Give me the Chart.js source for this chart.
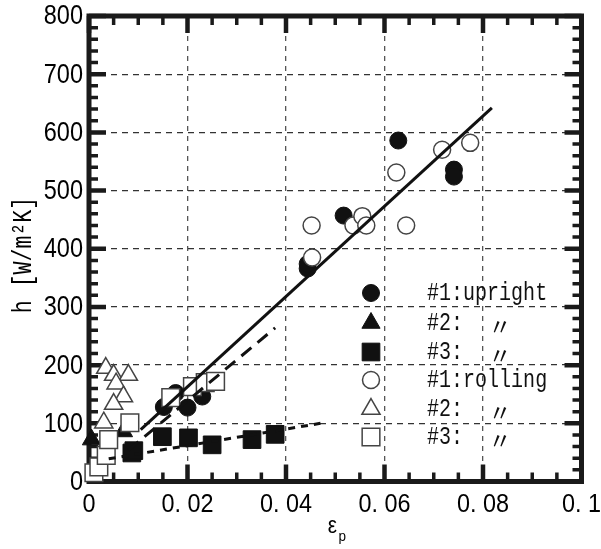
<!DOCTYPE html>
<html>
<head>
<meta charset="utf-8">
<script src="https://cdn.jsdelivr.net/npm/chart.js@4.4.1/dist/chart.umd.min.js"></script>
<style>
  html, body { margin: 0; padding: 0; background: #fff; }
</style>
</head>
<body>
<canvas id="heatChart" width="601" height="549"></canvas>
<script>
// measured points, [strain, h]
var upright1 = [[0.0152, 128], [0.0176, 152], [0.0200, 127], [0.0230, 146], [0.0444, 366], [0.0444, 374],
                [0.0517, 457], [0.0628, 586], [0.0741, 536], [0.0741, 524]];
var upright2 = [[0.0005, 72], [0.0070, 86]];
var upright3 = [[0.0087, 49], [0.0091, 53], [0.0149, 77], [0.0202, 75], [0.0250, 63], [0.0331, 72], [0.0378, 81]];
var rolling1 = [[0.0452, 440], [0.0453, 385], [0.0537, 440], [0.0555, 456], [0.0563, 440], [0.0644, 440],
                [0.0624, 531], [0.0717, 570], [0.0774, 582]];
var rolling2 = [[0.0034, 195], [0.0050, 183], [0.0080, 183], [0.0055, 168], [0.0070, 146], [0.0050, 133], [0.0030, 101]];
var rolling3 = [[0.0010, 15], [0.0020, 25], [0.0035, 45], [0.0040, 72], [0.0083, 101], [0.0166, 144],
                [0.0210, 163], [0.0236, 170], [0.0257, 172]];

// fitted lines
var fitAll = [[0.0105, 89], [0.0818, 642]];
var fit2 = [[0.0080, 54], [0.0378, 264]];
var fit3 = [[0.0040, 39], [0.0470, 100]];

var legendLabels = ['#1:upright', '#2:', '#3:', '#1:rolling', '#2:', '#3:'];
var legendDitto = [false, true, true, false, true, true];
var xTickStep = 0.02, xMinorStep = 0.005;
var yTickStep = 100, yMinorStep = 20;
var yTitle = 'h [W/m²K]';

var sansFont = "'Liberation Sans', Arial, sans-serif";
var monoFont = "'Liberation Mono', 'DejaVu Sans Mono', monospace";

function pts(arr) {
    return arr.map(function (p) { return { x: p[0], y: p[1] }; });
}

function markerSet(label, arr, style, radius, filled, order) {
    return {
        label: label,
        data: pts(arr),
        pointStyle: style,
        pointRadius: radius,
        pointHoverRadius: radius,
        pointBackgroundColor: filled ? '#111' : '#fff',
        pointBorderColor: filled ? '#111' : '#444',
        pointBorderWidth: filled ? 1 : 1.5,
        showLine: false,
        clip: false,
        order: order
    };
}

function lineSet(arr, dash) {
    return {
        data: pts(arr),
        showLine: true,
        borderColor: '#111',
        borderWidth: 3,
        borderDash: dash,
        pointRadius: 0,
        fill: false,
        order: 0
    };
}

var styles = [
    { style: 'circle', radius: 8.5, filled: true },
    { style: 'triangle', radius: 10.5, filled: true },
    { style: 'rect', radius: 12.5, filled: true },
    { style: 'circle', radius: 8.5, filled: false },
    { style: 'triangle', radius: 10.5, filled: false },
    { style: 'rect', radius: 12.5, filled: false }
];

// squeezed text, like the narrow Japanese font of the original
function narrowText(ctx, text, x, y, font, sx, align) {
    ctx.save();
    ctx.translate(x, y);
    ctx.scale(sx, 1);
    ctx.font = font;
    ctx.textAlign = align;
    ctx.textBaseline = 'middle';
    ctx.fillText(text, 0, 0);
    ctx.restore();
}

function xLabel(v) {
    if (Math.abs(v) < 1e-9) return '0';
    return v.toFixed(2).replace(/0$/, '').replace('.', '. ');
}

// frame and inward ticks on all four sides, plus labels
var framePlugin = {
    id: 'frame',
    beforeDatasetsDraw: function (chart) {
        var ctx = chart.ctx, a = chart.chartArea;
        var xs = chart.scales.x, ys = chart.scales.y;
        ctx.save();
        ctx.strokeStyle = '#1a1a1a';
        var i, p, major, len;
        var nx = Math.round((xs.max - xs.min) / xMinorStep);
        for (i = 0; i <= nx; i++) {
            p = xs.getPixelForValue(xs.min + i * xMinorStep);
            major = i % Math.round(xTickStep / xMinorStep) === 0;
            ctx.lineWidth = major ? 4.5 : 3.5;
            len = major ? 17 : 9;
            ctx.beginPath();
            ctx.moveTo(p, a.bottom); ctx.lineTo(p, a.bottom - len);
            ctx.moveTo(p, a.top); ctx.lineTo(p, a.top + len);
            ctx.stroke();
        }
        var ny = Math.round((ys.max - ys.min) / yMinorStep);
        for (i = 0; i <= ny; i++) {
            p = ys.getPixelForValue(ys.min + i * yMinorStep);
            major = i % Math.round(yTickStep / yMinorStep) === 0;
            ctx.lineWidth = major ? 4.5 : 3.5;
            len = major ? 17 : 9;
            ctx.beginPath();
            ctx.moveTo(a.left, p); ctx.lineTo(a.left + len, p);
            ctx.moveTo(a.right, p); ctx.lineTo(a.right - len, p);
            ctx.stroke();
        }
        ctx.lineWidth = 5;
        ctx.strokeRect(a.left, a.top, a.right - a.left, a.bottom - a.top);
        ctx.restore();
    },
    afterDraw: function (chart) {
        var ctx = chart.ctx, a = chart.chartArea;
        var xs = chart.scales.x, ys = chart.scales.y;
        ctx.save();
        ctx.fillStyle = '#000';

        // tick labels from the scales' own ticks
        xs.ticks.forEach(function (t) {
            narrowText(ctx, xLabel(t.value), xs.getPixelForValue(t.value), 505, "26px " + sansFont, 0.9, 'center');
        });
        ys.ticks.forEach(function (t) {
            narrowText(ctx, String(t.value), a.left - 6, ys.getPixelForValue(t.value) + 1, "27px " + sansFont, 0.87, 'right');
        });

        // y title, rotated
        ctx.save();
        ctx.translate(24, 255);
        ctx.rotate(-Math.PI / 2);
        narrowText(ctx, yTitle, 0, 0, "28px " + monoFont, 0.77, 'center');
        ctx.restore();

        // x title: epsilon with subscript p
        var cx = (a.left + a.right) / 2;
        narrowText(ctx, 'ε', cx - 3, 527, "23px " + sansFont, 0.9, 'center');
        narrowText(ctx, 'p', cx + 7, 537, "15px " + sansFont, 0.9, 'center');

        // legend
        var mx = 371, tx = 427, dx = 498;
        var rows = [293, 323, 352, 380, 409, 437];
        for (var i = 0; i < rows.length; i++) {
            var s = styles[i];
            ctx.fillStyle = s.filled ? '#111' : '#fff';
            ctx.strokeStyle = s.filled ? '#111' : '#444';
            ctx.lineWidth = s.filled ? 1 : 1.5;
            Chart.helpers.drawPoint(ctx, { pointStyle: s.style, radius: s.radius, rotation: 0, borderWidth: ctx.lineWidth }, mx, rows[i]);
            ctx.fillStyle = '#111';
            narrowText(ctx, legendLabels[i], tx, rows[i], "26px " + monoFont, 0.77, 'left');
            if (legendDitto[i]) {
                ctx.font = "23px 'Noto Sans CJK JP', sans-serif";
                ctx.textAlign = 'center';
                ctx.textBaseline = 'middle';
                ctx.fillText('〃', dx + 2, rows[i] + 3);
            }
        }
        ctx.restore();
    }
};

var datasets = [lineSet(fitAll, []), lineSet(fit2, [13, 8]), lineSet(fit3, [7, 6])];
var groups = [upright1, upright2, upright3, rolling1, rolling2, rolling3];
var names = ['#1:upright', '#2: upright', '#3: upright', '#1:rolling', '#2: rolling', '#3: rolling'];
var orders = [6, 5, 4, 3, 2, 1];
for (var g = 0; g < groups.length; g++) {
    datasets.push(markerSet(names[g], groups[g], styles[g].style, styles[g].radius, styles[g].filled, orders[g]));
}

new Chart(document.getElementById('heatChart'), {
    type: 'scatter',
    data: { datasets: datasets },
    options: {
        responsive: false,
        animation: false,
        devicePixelRatio: 1,
        layout: { padding: { top: 16, right: 19.5, left: 0, bottom: 0 } },
        plugins: { legend: { display: false }, tooltip: { enabled: false } },
        scales: {
            x: {
                type: 'linear',
                min: 0, max: 0.1,
                afterFit: function (s) { s.height = 67.5; },
                ticks: { stepSize: xTickStep, display: false },
                grid: { drawTicks: false, color: '#555', lineWidth: 1.3 },
                border: { display: false, dash: [5, 5] }
            },
            y: {
                type: 'linear',
                min: 0, max: 800,
                afterFit: function (s) { s.width = 89; },
                ticks: { stepSize: yTickStep, display: false },
                grid: { drawTicks: false, color: '#333', lineWidth: 1.3 },
                border: { display: false, dash: [6, 5] }
            }
        }
    },
    plugins: [framePlugin]
});
</script>
</body>
</html>
